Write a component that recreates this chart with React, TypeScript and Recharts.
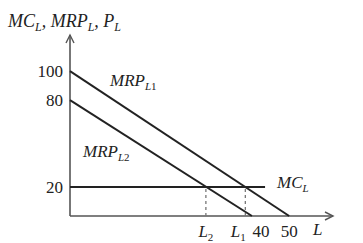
import React from 'react';
import { LineChart, Line, XAxis, YAxis, ReferenceLine } from 'recharts';

// Series (L on x, value on y)
const mrpL1X = [0, 50];
const mrpL1Y = [100, 0];
const mrpL2X = [0, 41.5];
const mrpL2Y = [80, 0];
const mcX = [0, 44.5];
const mcY = [20, 20];
// Equilibrium quantities where MRP meets MC
const eqNames = ['L2', 'L1'];
const eqL = [31, 40];
const eqValue = 20;
// Ticks
const xTickValues = [31, 40, 41.5, 50];
const xTickLabels = ['L2', 'L1', '40', '50'];
const yTickValues = [20, 80, 100];
const yTickLabels = ['20', '80', '100'];

const FONT = 'Liberation Serif';
const INK = '#222';
const AXIS = '#555';
const TXT: React.CSSProperties = { fontFamily: '"Liberation Serif", "DejaVu Serif", serif' };

const toPts = (xs: number[], ys: number[]) => xs.map((x, i) => ({ x, y: ys[i] }));
const mrpL1 = toPts(mrpL1X, mrpL1Y);
const mrpL2 = toPts(mrpL2X, mrpL2Y);
const mc = toPts(mcX, mcY);

const xDx: Record<string, number> = { L2: 0, L1: -7, '40': 9, '50': 0 };

const XTick = (props: any) => {
  const { x, y, payload } = props;
  const idx = xTickValues.indexOf(payload.value);
  const label = xTickLabels[idx] ?? String(payload.value);
  const cx = x + (xDx[label] ?? 0);
  const by = y + 13;
  if (label.startsWith('L')) {
    return (
      <text x={cx} y={by} textAnchor="middle" style={TXT} fontFamily={FONT} fontSize={17} fill={INK}>
        <tspan fontStyle="italic">L</tspan>
        <tspan fontSize={11} dy={4}>{label.slice(1)}</tspan>
      </text>
    );
  }
  return (
    <text x={cx} y={by} textAnchor="middle" style={TXT} fontFamily={FONT} fontSize={17} fill={INK}>
      {label}
    </text>
  );
};

const YTick = (props: any) => {
  const { y, payload } = props;
  const idx = yTickValues.indexOf(payload.value);
  const label = yTickLabels[idx] ?? String(payload.value);
  return (
    <text x={63} y={y + 6} textAnchor="end" style={TXT} fontFamily={FONT} fontSize={17} fill={INK}>
      {label}
    </text>
  );
};

const ArrowUp = (p: any) => (
  <g>
    <line x1={p.x1} y1={p.y1} x2={p.x2} y2={p.y2} stroke={AXIS} strokeWidth={1.6} />
    <polyline points={`${p.x2 - 4},${p.y2 + 8} ${p.x2},${p.y2} ${p.x2 + 4},${p.y2 + 8}`} fill="none" stroke={AXIS} strokeWidth={1.4} />
  </g>
);
const ArrowRight = (p: any) => (
  <g>
    <line x1={p.x1} y1={p.y1} x2={p.x2} y2={p.y2} stroke={AXIS} strokeWidth={1.6} />
    <polyline points={`${p.x2 - 8},${p.y2 - 4} ${p.x2},${p.y2} ${p.x2 - 8},${p.y2 + 4}`} fill="none" stroke={AXIS} strokeWidth={1.4} />
  </g>
);

export default function App() {
  return (
    <div style={{ position: 'absolute', left: 0, top: 0, background: '#fff' }}>
      <LineChart width={363} height={243} margin={{ top: 35, right: 30, bottom: 0, left: 0 }}>
        <XAxis
          type="number"
          dataKey="x"
          domain={[0, 60]}
          ticks={xTickValues}
          tick={<XTick />}
          tickLine={false}
          axisLine={false}
          height={27}
          interval={0}
        />
        <YAxis
          type="number"
          dataKey="y"
          domain={[0, 125]}
          ticks={yTickValues}
          tick={<YTick />}
          tickLine={false}
          axisLine={false}
          width={70}
          interval={0}
        />
        <ReferenceLine segment={[{ x: 0, y: 0 }, { x: 0, y: 125 }]} shape={<ArrowUp />} ifOverflow="visible" />
        <ReferenceLine segment={[{ x: 0, y: 0 }, { x: 60, y: 0 }]} shape={<ArrowRight />} ifOverflow="visible" />
        {eqL.map((l, i) => (
          <ReferenceLine
            key={eqNames[i]}
            segment={[{ x: l, y: 0 }, { x: l, y: eqValue }]}
            stroke="#777"
            strokeWidth={1.3}
            strokeDasharray="3 3"
          />
        ))}
        <Line data={mrpL1} dataKey="y" type="linear" stroke={INK} strokeWidth={2} dot={false} isAnimationActive={false} />
        <Line data={mrpL2} dataKey="y" type="linear" stroke={INK} strokeWidth={2} dot={false} isAnimationActive={false} />
        <Line data={mc} dataKey="y" type="linear" stroke={INK} strokeWidth={2} dot={false} isAnimationActive={false} />
        <text x={8} y={27} style={TXT} fontFamily={FONT} fontSize={18} fill={INK} fontStyle="italic">
          MC<tspan fontSize={12} dy={4}>L</tspan>
          <tspan dy={-4}>, </tspan>
          MRP<tspan fontSize={12} dy={4}>L</tspan>
          <tspan dy={-4}>, </tspan>
          P<tspan fontSize={12} dy={4}>L</tspan>
        </text>
        <text x={110} y={86} style={TXT} fontFamily={FONT} fontSize={17} fill={INK} fontStyle="italic">
          MRP<tspan fontSize={11} dy={4}>L</tspan><tspan fontSize={11} fontStyle="normal">1</tspan>
        </text>
        <text x={83} y={157} style={TXT} fontFamily={FONT} fontSize={17} fill={INK} fontStyle="italic">
          MRP<tspan fontSize={11} dy={4}>L</tspan><tspan fontSize={11} fontStyle="normal">2</tspan>
        </text>
        <text x={277} y={188} style={TXT} fontFamily={FONT} fontSize={17} fill={INK} fontStyle="italic">
          MC<tspan fontSize={11} dy={4}>L</tspan>
        </text>
        <text x={313} y={235} style={TXT} fontFamily={FONT} fontSize={17} fill={INK} fontStyle="italic">
          L
        </text>
      </LineChart>
    </div>
  );
}
